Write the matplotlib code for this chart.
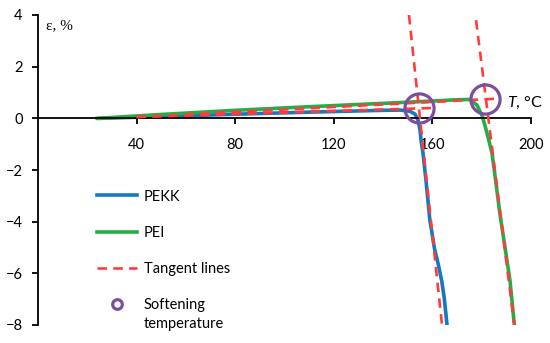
import numpy as np
import matplotlib
matplotlib.use('Agg')
import matplotlib.pyplot as plt

# PEKK curve (T in C, strain in %)
pekk_T = [25, 50, 80, 110, 140, 147, 151, 153, 154.2, 155, 155.4, 156.2, 157.4, 159.0, 159.7, 160.8, 162.4, 163.8, 164.8, 165.5, 166.2]
pekk_e = [0, 0.07, 0.16, 0.24, 0.31, 0.32, 0.27, 0.16, -0.08, -0.47, -0.86, -1.36, -2.41, -3.97, -4.36, -5.02, -5.66, -6.30, -6.96, -7.59, -8.25]

# PEI curve
pei_T = [24, 50, 80, 110, 140, 160, 170, 175.3, 178.1, 180.1, 181.3, 182.6, 184.2, 185.4, 187.4, 189.5, 191.5, 193.5]
pei_e = [0, 0.15, 0.31, 0.45, 0.58, 0.67, 0.72, 0.73, 0.51, 0.12, -0.27, -0.74, -1.36, -2.22, -3.70, -5.02, -6.30, -8.25]

# tangent lines
pekk_flat_T = [40, 160]
pekk_flat_e = [0.05, 0.40]
pekk_steep_T = [150.5, 163.9]
pekk_steep_e = [4.0, -8.0]
pei_flat_T = [40, 186]
pei_flat_e = [0.05, 0.76]
pei_steep_T = [177.7, 193.5]
pei_steep_e = [3.8, -8.2]

# softening temperatures
soft_T = [154.6, 181.5]
soft_e = [0.39, 0.74]

blue = '#1479BE'
green = '#25AE48'
red = '#FF3B3B'
purple = '#7D4E9F'

plt.rcParams['font.family'] = ['Lato', 'DejaVu Sans']
plt.rcParams['mathtext.fontset'] = 'custom'
plt.rcParams['mathtext.it'] = 'Lato:italic'
plt.rcParams['mathtext.rm'] = 'Lato'

fig = plt.figure(figsize=(5.5, 3.43), dpi=100)
ax = fig.add_axes([38/550, 1-325/343, 493/550, 310/343])

ax.plot(pekk_T, pekk_e, color=blue, lw=2.6, label='PEKK', zorder=2)
ax.plot(pei_T, pei_e, color=green, lw=2.6, label='PEI', zorder=2)

dash = (0, (3.6, 2.4))
ax.plot(pekk_flat_T, pekk_flat_e, color=red, lw=1.9, ls=dash, label='Tangent lines', zorder=3)
ax.plot(pekk_steep_T, pekk_steep_e, color=red, lw=1.9, ls=dash, zorder=3)
ax.plot(pei_flat_T, pei_flat_e, color=red, lw=1.9, ls=dash, zorder=3)
ax.plot(pei_steep_T, pei_steep_e, color=red, lw=1.9, ls=dash, zorder=3)

ax.plot(soft_T, soft_e, ls='none', marker='o', markersize=21, markerfacecolor='none',
        markeredgecolor=purple, markeredgewidth=2.3, label='Softening', zorder=4)

ax.set_xlim(0, 200)
ax.set_ylim(-8, 4)
ax.spines['top'].set_visible(False)
ax.spines['right'].set_visible(False)
ax.spines['bottom'].set_position(('data', 0))
ax.spines['left'].set_linewidth(1.3)
ax.spines['bottom'].set_linewidth(1.3)

ax.set_xticks([40, 80, 120, 160, 200])
ax.set_yticks([4, 2, 0, -2, -4, -6, -8])
ax.tick_params(axis='both', direction='out', length=4, width=1.3, labelsize=10.5)
ax.tick_params(axis='x', pad=10)
ax.tick_params(axis='y', pad=7)
ax.set_yticklabels(['4', '2', '0', '\u22122', '\u22124', '\u22126', '\u22128'])

ax.text(0.016, 0.985, '\u03b5, %', transform=ax.transAxes, fontsize=11,
        family='Liberation Serif', va='top', ha='left')
ax.text(0.952, 0.715, r'$T$, °C', transform=ax.transAxes, fontsize=11.5,
        va='center', ha='left')

leg = ax.legend(loc='upper left', bbox_to_anchor=(0.12, 0.437), frameon=False,
                fontsize=10.5, handlelength=2.75, handletextpad=0.45, labelspacing=1.53,
                borderaxespad=0, borderpad=0, markerscale=0.33)
# second line of the last legend label
fig.canvas.draw()
ax.annotate('temperature', xy=(0, 0), xycoords=leg.get_texts()[3],
            xytext=(0, -3.5), textcoords='offset points', va='top', ha='left',
            fontsize=10.5, zorder=6, annotation_clip=False)

fig.savefig('out.png', dpi=100)
